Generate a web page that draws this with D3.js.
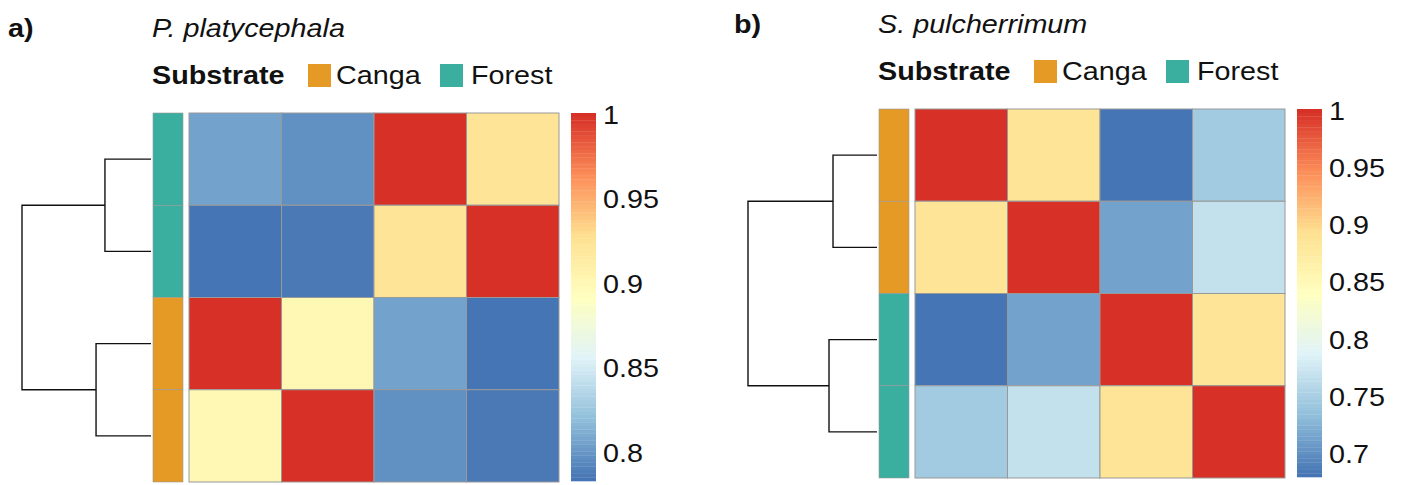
<!DOCTYPE html>
<html>
<head>
<meta charset="UTF-8">
<title>Correlation heatmaps</title>
<style>
  body { margin: 0; background: #fff; }
  text { font-family: "Liberation Sans", Arial, Helvetica, sans-serif; fill: #111; }
</style>
</head>
<body>
<script src="https://cdn.jsdelivr.net/npm/d3@7"></script>
<script>

    // ---- data: panel a
    var titleA = 'P. platycephala';
    var rowGroupsA = ['Forest', 'Forest', 'Canga', 'Canga'];
    var valuesA = [
        [0.805, 0.797, 1.000, 0.922],
        [0.782, 0.786, 0.922, 1.000],
        [1.000, 0.898, 0.805, 0.782],
        [0.898, 1.000, 0.797, 0.786]
    ];
    var mergeHeightsA = [0.357, 0.426, 1];   // rows 1-2, rows 3-4, root
    var ticksA = [0.8, 0.85, 0.9, 0.95, 1];

    // ---- data: panel b
    var titleB = 'S. pulcherrimum';
    var rowGroupsB = ['Canga', 'Canga', 'Forest', 'Forest'];
    var valuesB = [
        [1.000, 0.885, 0.678, 0.745],
        [0.885, 1.000, 0.712, 0.765],
        [0.678, 0.712, 1.000, 0.885],
        [0.745, 0.765, 0.885, 1.000]
    ];
    var mergeHeightsB = [0.341, 0.372, 1];
    var ticksB = [0.7, 0.75, 0.8, 0.85, 0.9, 0.95, 1];

    var groups = ['Canga', 'Forest'];
    var groupColors = ['#E69A26', '#3AAE9F'];
    var rampColors = ['#4575B4', '#91BFDB', '#E0F3F8', '#FFFFBF', '#FEE090', '#FC8D59', '#D73027'];

    var w = 1403, h = 485;
    var sx = 1.15;        // text in the figure is a bit wider than normal
    var fs = 25;

    var svg = d3.select('body').append('svg')
            .attr('width', w)
            .attr('height', h);

    var ramp = d3.scaleLinear()
            .domain(rampColors.map(function(d, i) { return i / (rampColors.length - 1); }))
            .range(rampColors)
            .interpolate(d3.interpolateRgb);
    var palette = d3.range(100).map(function(i) { return ramp(i / 99); });

    var groupColor = d3.scaleOrdinal().domain(groups).range(groupColors);

    function addText(g, x, y, str, weight, style) {
        return g.append('text')
                .attr('transform', 'translate(' + x + ',' + y + ') scale(' + sx + ',1)')
                .attr('font-size', fs)
                .attr('font-weight', weight || 'normal')
                .attr('font-style', style || 'normal')
                .text(str);
    }

    function drawPanel(ox, oy, letter, title, rowGroups, values, merges, ticks) {
        var g = svg.append('g').attr('transform', 'translate(' + ox + ',' + oy + ')');
        var n = values.length;
        var top = 113, bottom = 482;

        addText(g, 8, 37, letter, 'bold');
        addText(g, 152, 37, title, 'normal', 'italic');

        // annotation legend
        addText(g, 152, 84, 'Substrate', 'bold');
        var legX = [[308, 336], [440, 471]];
        groups.forEach(function(grp, i) {
            g.append('rect')
                    .attr('x', legX[i][0]).attr('y', 64)
                    .attr('width', 23).attr('height', 23)
                    .attr('fill', groupColor(grp));
            addText(g, legX[i][1], 84, grp);
        });

        var x = d3.scaleBand().domain(d3.range(n)).range([189, 559]);
        var y = d3.scaleBand().domain(d3.range(n)).range([top, bottom]);

        var flat = [];
        values.forEach(function(row, r) {
            row.forEach(function(v, c) { flat.push({r: r, c: c, v: v}); });
        });
        var ext = d3.extent(flat, function(d) { return d.v; });
        var color = d3.scaleQuantize().domain(ext).range(palette);

        g.selectAll('rect.cell')
                .data(flat)
                .enter()
                .append('rect')
                .attr('class', 'cell')
                .attr('x', function(d) { return x(d.c); })
                .attr('y', function(d) { return y(d.r); })
                .attr('width', x.bandwidth())
                .attr('height', y.bandwidth())
                .attr('fill', function(d) { return color(d.v); })
                .attr('stroke', '#999999')
                .attr('stroke-width', 1);

        // annotation column
        g.selectAll('rect.ann')
                .data(rowGroups)
                .enter()
                .append('rect')
                .attr('class', 'ann')
                .attr('x', 153)
                .attr('y', function(d, i) { return y(i); })
                .attr('width', 30)
                .attr('height', y.bandwidth())
                .attr('fill', function(d) { return groupColor(d); })
                .attr('stroke', '#999999')
                .attr('stroke-width', 0.6);

        // dendrogram
        var hx = d3.scaleLinear().domain([0, merges[2]]).range([151, 22]);
        var cy = function(i) { return y(i) + y.bandwidth() / 2; };
        var y1 = (cy(0) + cy(1)) / 2, y2 = (cy(2) + cy(3)) / 2;
        var segs = [
            [[hx(0), cy(0)], [hx(merges[0]), cy(0)], [hx(merges[0]), cy(1)], [hx(0), cy(1)]],
            [[hx(0), cy(2)], [hx(merges[1]), cy(2)], [hx(merges[1]), cy(3)], [hx(0), cy(3)]],
            [[hx(merges[0]), y1], [hx(merges[2]), y1], [hx(merges[2]), y2], [hx(merges[1]), y2]]
        ];
        g.selectAll('path.dend')
                .data(segs)
                .enter()
                .append('path')
                .attr('class', 'dend')
                .attr('d', d3.line())
                .attr('fill', 'none')
                .attr('stroke', '#111')
                .attr('stroke-width', 1.4);

        // colour bar
        var cb = d3.scaleLinear().domain(ext).range([bottom - 1, top]);
        var steps = d3.range(100).map(function(i) { return ext[0] + (ext[1] - ext[0]) * i / 100; });
        var stepH = (bottom - 1 - top) / 100;
        g.selectAll('rect.cb')
                .data(steps)
                .enter()
                .append('rect')
                .attr('class', 'cb')
                .attr('x', 571)
                .attr('y', function(d) { return cb(d) - stepH; })
                .attr('width', 25)
                .attr('height', stepH + 0.3)
                .attr('fill', function(d, i) { return palette[i]; });

        ticks.forEach(function(t) {
            addText(g, 603, cb(t) + 2, d3.format('~g')(t))
                    .attr('dy', '0.36em');
        });
    }

    drawPanel(0, 0, 'a)', titleA, rowGroupsA, valuesA, mergeHeightsA, ticksA);
    drawPanel(726, -4, 'b)', titleB, rowGroupsB, valuesB, mergeHeightsB, ticksB);

</script>
</body>
</html>
